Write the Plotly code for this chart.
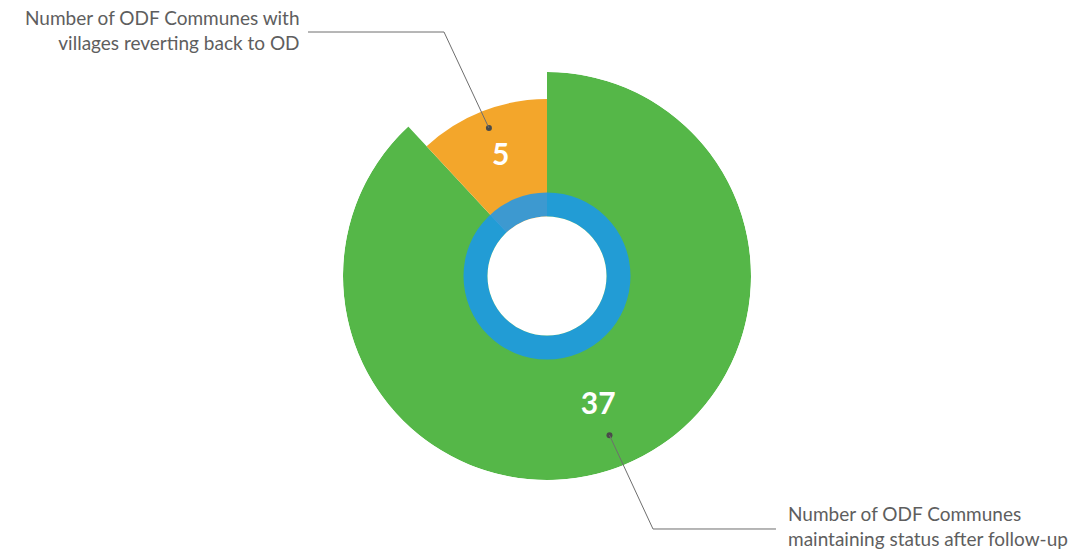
import math
import plotly.graph_objects as go

# ---- data ----
categories = ["Number of ODF Communes with<br>villages reverting back to OD",
              "Number of ODF Communes<br>maintaining status after follow-up"]
values = [5, 37]
slice_colors = ["#f3a62b", "#55b748"]
slice_radius = [177, 204]      # variable outer radius of each slice
label_radius = [127, 140]
dot_radius = [159, 171]

W, H = 1071, 550
CX, CY, R = 547, 276, 204      # polar centre / outer radius in pixels

total = sum(values)
widths = [360 * v / total for v in values]
# orange sits just counter-clockwise of 12 o'clock, green runs clockwise from 12
mids = [360 - widths[0] / 2, widths[1] / 2]

fig = go.Figure()

for i in [1, 0]:
    fig.add_trace(go.Barpolar(
        r=[slice_radius[i]], theta=[mids[i]], width=[widths[i]],
        marker=dict(color=slice_colors[i], line=dict(width=0)),
        hoverinfo="skip", showlegend=False))

# blue inner ring and white hole
fig.add_trace(go.Barpolar(
    r=[24], base=[59.5], theta=[0], width=[360],
    marker=dict(color="#1896f2", opacity=0.83, line=dict(width=0)),
    hoverinfo="skip", showlegend=False))
fig.add_trace(go.Barpolar(
    r=[59.5], theta=[0], width=[360],
    marker=dict(color="white", line=dict(width=0)),
    hoverinfo="skip", showlegend=False))

# value labels
fig.add_trace(go.Scatterpolar(
    r=label_radius, theta=mids, mode="text",
    text=[str(v) for v in values],
    textfont=dict(family="Lato", size=30, color="white", weight="bold"),
    hoverinfo="skip", showlegend=False))

# leader dots
fig.add_trace(go.Scatterpolar(
    r=dot_radius, theta=mids, mode="markers",
    marker=dict(size=6, color="#4a4a4a"),
    hoverinfo="skip", showlegend=False))


def pix(x, y):
    return x / W, 1 - y / H


def dot_px(i):
    a = math.radians(mids[i])
    return CX + dot_radius[i] * math.sin(a), CY - dot_radius[i] * math.cos(a)


shapes = []
d0 = dot_px(0)
pts0 = [(308, 32), (444, 32), d0]
d1 = dot_px(1)
pts1 = [d1, (653, 529), (776, 529)]
for pts in (pts0, pts1):
    path = "M " + " L ".join("%f,%f" % pix(*p) for p in pts)
    shapes.append(dict(type="path", xref="paper", yref="paper", path=path,
                       line=dict(color="#6e6e6e", width=1)))

ann_font = dict(family="Lato", size=19, color="#5e5e5e")
annotations = [
    dict(x=302 / W, y=1 - 30.5 / H, xref="paper", yref="paper",
         text=categories[0], showarrow=False, xanchor="right", yanchor="middle",
         align="right", font=ann_font),
    dict(x=786 / W, y=1 - 526 / H, xref="paper", yref="paper",
         text=categories[1], showarrow=False, xanchor="left", yanchor="middle",
         align="left", font=ann_font),
]

fig.update_layout(
    width=W, height=H,
    margin=dict(l=0, r=0, t=0, b=0),
    paper_bgcolor="white", plot_bgcolor="white",
    polar=dict(
        domain=dict(x=[(CX - R) / W, (CX + R) / W],
                    y=[1 - (CY + R) / H, 1 - (CY - R) / H]),
        bgcolor="rgba(0,0,0,0)",
        radialaxis=dict(range=[0, R], visible=False, showgrid=False),
        angularaxis=dict(visible=False, showgrid=False, direction="clockwise",
                         rotation=90),
        bargap=0,
    ),
    shapes=shapes,
    annotations=annotations,
)

fig.write_html("out.html",
               config={"displayModeBar": False},
               post_script="document.body.style.margin='0';"
                           "document.body.style.overflow='hidden';")
